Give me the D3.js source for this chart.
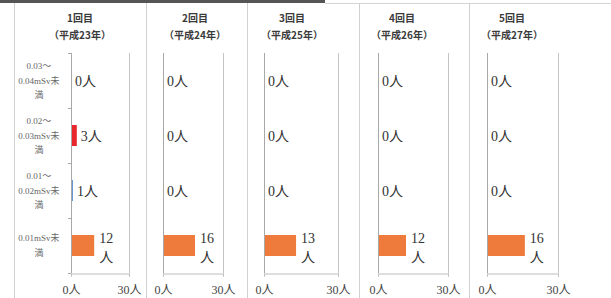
<!DOCTYPE html>
<html>
<head>
<meta charset="utf-8">
<script src="https://cdn.jsdelivr.net/npm/d3@7"></script>
<style>
  body { margin: 0; background: #fff; }
  svg { display: block; }
  .title { font-family: "Noto Sans CJK JP", "Noto Sans", sans-serif; font-weight: bold; font-size: 10px; fill: #3a3a3a; }
  .val { font-family: "Liberation Serif", "Noto Sans CJK JP", serif; font-size: 14px; fill: #333; }
  .cat { font-family: "Liberation Serif", "Noto Sans CJK JP", serif; font-size: 9px; fill: #666; }
  .xaxis text { font-family: "Liberation Serif", "Noto Sans CJK JP", serif; font-size: 12px; fill: #444; }
</style>
</head>
<body>
<div id="chart"></div>
<script>
// data
const categories = ["0.03～0.04mSv未満", "0.02～0.03mSv未満", "0.01～0.02mSv未満", "0.01mSv未満"];
const categoryLines = [["0.03～", "0.04mSv未", "満"], ["0.02～", "0.03mSv未", "満"], ["0.01～", "0.02mSv未", "満"], ["0.01mSv未", "満"]];
const rounds = ["1回目", "2回目", "3回目", "4回目", "5回目"];
const years = ["（平成23年）", "（平成24年）", "（平成25年）", "（平成26年）", "（平成27年）"];
const from003to004 = [0, 0, 0, 0, 0];
const from002to003 = [3, 0, 0, 0, 0];
const from001to002 = [1, 0, 0, 0, 0];
const under001 = [12, 16, 13, 12, 16];
const xTicks = [0, 30];

const series = [from003to004, from002to003, from001to002, under001];
const barColors = ["#ee7b3c", "#e8262b", "#5b8fd6", "#ee7b3c"];

// layout
const width = 611, height = 298;
const plotTop = 53, plotBottom = 273;
const separators = [14, 146, 247, 359, 469];
const panels = [
  { left: 71, right: 129, titleX: 80 },
  { left: 163, right: 223, titleX: 195 },
  { left: 264, right: 338, titleX: 292 },
  { left: 378, right: 448, titleX: 402 },
  { left: 487, right: 558, titleX: 512 }
];

const svg = d3.select("#chart")
  .append("svg")
    .attr("width", width)
    .attr("height", height);

// frame
svg.append("rect")
  .attr("x", 0).attr("y", 0)
  .attr("width", 325).attr("height", 3)
  .attr("fill", "#555");

svg.append("line")
  .attr("x1", 325).attr("x2", width)
  .attr("y1", 3.5).attr("y2", 3.5)
  .attr("stroke", "#d4d4d4");

svg.selectAll(".sep")
  .data(separators)
  .join("line")
    .attr("class", "sep")
    .attr("x1", d => d + 0.5).attr("x2", d => d + 0.5)
    .attr("y1", 3).attr("y2", height)
    .attr("stroke", "#d0d0d0");

const yScale = d3.scaleBand()
  .domain(categories)
  .range([plotTop, plotBottom]);

rounds.forEach((round, i) => {
  const p = panels[i];
  const g = svg.append("g");

  const xScale = d3.scaleLinear()
    .domain([0, 30])
    .range([p.left, p.right]);

  // titles
  g.append("text").attr("class", "title")
    .attr("x", p.titleX).attr("y", 22)
    .attr("text-anchor", "middle")
    .text(round);
  g.append("text").attr("class", "title")
    .attr("x", p.titleX).attr("y", 39)
    .attr("text-anchor", "middle")
    .text(years[i]);

  // gridline at 30
  g.append("line")
    .attr("x1", xScale(30) + 0.5).attr("x2", xScale(30) + 0.5)
    .attr("y1", plotTop).attr("y2", plotBottom)
    .attr("stroke", "#c4c4c4");

  // bottom axis
  const bottomAxis = d3.axisBottom(xScale)
    .tickValues(xTicks)
    .tickFormat(d => d + "人")
    .tickSize(3)
    .tickPadding(9);
  const ax = g.append("g")
    .attr("class", "xaxis")
    .attr("transform", `translate(0, ${plotBottom + 0.5})`)
    .call(bottomAxis);
  ax.select(".domain").attr("stroke", "#bdbdbd");
  ax.selectAll(".tick line").attr("stroke", "#bdbdbd");

  // bars
  const rows = categories.map((c, k) => ({ cat: c, value: series[k][i], color: barColors[k] }));
  const barH = 21;

  g.selectAll("rect.bar")
    .data(rows.filter(d => d.value > 0))
    .join("rect")
      .attr("class", "bar")
      .attr("x", xScale(0))
      .attr("y", d => yScale(d.cat) + yScale.bandwidth() / 2 - barH / 2)
      .attr("width", d => xScale(d.value) - xScale(0))
      .attr("height", barH)
      .attr("fill", d => d.color);

  // left axis line
  g.append("line")
    .attr("x1", xScale(0) + 0.5).attr("x2", xScale(0) + 0.5)
    .attr("y1", plotTop).attr("y2", plotBottom)
    .attr("stroke", "#a8a8a8");

  // value labels
  rows.forEach(d => {
    const cy = yScale(d.cat) + yScale.bandwidth() / 2;
    const xEnd = xScale(d.value);
    if (d.value >= 10) {
      const t = g.append("text").attr("class", "val").attr("text-anchor", "middle");
      t.append("tspan").attr("x", xEnd + 12).attr("y", cy - 3).text(d.value);
      t.append("tspan").attr("x", xEnd + 12).attr("y", cy + 16).text("人");
    } else {
      g.append("text").attr("class", "val")
        .attr("x", xEnd + 4).attr("y", cy + 5)
        .text(d.value + "人");
    }
  });

  // category labels and ticks on first panel
  if (i === 0) {
    const bounds = categories.map(c => yScale(c)).concat([plotBottom]);
    g.selectAll(".ytick")
      .data(bounds)
      .join("line")
        .attr("class", "ytick")
        .attr("x1", xScale(0) - 3).attr("x2", xScale(0))
        .attr("y1", d => d + 0.5).attr("y2", d => d + 0.5)
        .attr("stroke", "#a8a8a8");

    categories.forEach((c, k) => {
      const lines = categoryLines[k];
      const cy = yScale(c) + yScale.bandwidth() / 2;
      const lh = 14.5;
      const t = g.append("text").attr("class", "cat").attr("text-anchor", "middle");
      lines.forEach((ln, j) => {
        t.append("tspan")
          .attr("x", 39)
          .attr("y", cy + 3 + (j - (lines.length - 1) / 2) * lh)
          .text(ln);
      });
    });
  }
});
</script>
</body>
</html>
